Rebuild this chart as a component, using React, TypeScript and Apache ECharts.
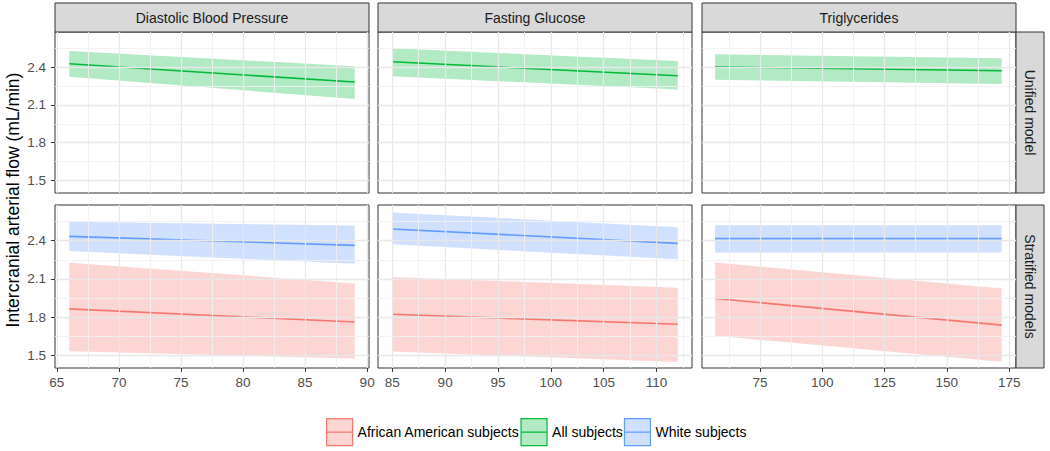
import React, { useEffect, useRef } from "react";
import * as echarts from "echarts";

// ---------- data ----------
const facets = ["Diastolic Blood Pressure", "Fasting Glucose", "Triglycerides"];
const models = ["Unified model", "Stratified models"];
const groups = ["African American subjects", "All subjects", "White subjects"];
const groupColors = ["#F8766D", "#00BA38", "#619CFF"];

// x extent of each facet's data
const dbpX = [66, 89];
const fgX = [85, 112];
const tgX = [57, 172];

// Unified model – All subjects (fit, lower, upper)
const dbpAllFit = [2.427, 2.282];
const dbpAllLo = [2.324, 2.147];
const dbpAllHi = [2.529, 2.408];
const fgAllFit = [2.443, 2.332];
const fgAllLo = [2.329, 2.222];
const fgAllHi = [2.55, 2.45];
const tgAllFit = [2.403, 2.372];
const tgAllLo = [2.3, 2.266];
const tgAllHi = [2.503, 2.471];

// Stratified models – African American subjects
const dbpAAFit = [1.864, 1.761];
const dbpAALo = [1.531, 1.474];
const dbpAAHi = [2.226, 2.064];
const fgAAFit = [1.822, 1.743];
const fgAALo = [1.529, 1.447];
const fgAAHi = [2.115, 2.03];
const tgAAFit = [1.946, 1.737];
const tgAALo = [1.653, 1.449];
const tgAAHi = [2.228, 2.025];

// Stratified models – White subjects
const dbpWFit = [2.434, 2.363];
const dbpWLo = [2.318, 2.218];
const dbpWHi = [2.548, 2.519];
const fgWFit = [2.492, 2.379];
const fgWLo = [2.371, 2.254];
const fgWHi = [2.622, 2.505];
const tgWFit = [2.416, 2.416];
const tgWLo = [2.307, 2.307];
const tgWHi = [2.521, 2.521];

// axes
const xMins = [64.85, 83.65, 51.75];
const xMaxs = [90.15, 113.35, 177.75];
const dbpTicks = [65, 70, 75, 80, 85, 90];
const fgTicks = [85, 90, 95, 100, 105, 110];
const tgTicks = [75, 100, 125, 150, 175];
const dbpMinor = [67.5, 72.5, 77.5, 82.5, 87.5];
const fgMinor = [87.5, 92.5, 97.5, 102.5, 107.5, 112.5];
const tgMinor = [62.5, 87.5, 112.5, 137.5, 162.5];
const yMin = 1.4;
const yMax = 2.68;
const yTicks = [1.5, 1.8, 2.1, 2.4];
const yMinor = [1.65, 1.95, 2.25, 2.55];
const yTitle = "Intercranial arterial flow (mL/min)";

// ---------- assembly ----------
type Curve = { group: number; x: number[]; fit: number[]; lo: number[]; hi: number[] };

const panelXs = [dbpX, fgX, tgX];
const panelTicks = [dbpTicks, fgTicks, tgTicks];
const panelMinor = [dbpMinor, fgMinor, tgMinor];

const panels: Curve[][] = [
  // row 0: unified
  [{ group: 1, x: dbpX, fit: dbpAllFit, lo: dbpAllLo, hi: dbpAllHi }],
  [{ group: 1, x: fgX, fit: fgAllFit, lo: fgAllLo, hi: fgAllHi }],
  [{ group: 1, x: tgX, fit: tgAllFit, lo: tgAllLo, hi: tgAllHi }],
  // row 1: stratified
  [
    { group: 0, x: dbpX, fit: dbpAAFit, lo: dbpAALo, hi: dbpAAHi },
    { group: 2, x: dbpX, fit: dbpWFit, lo: dbpWLo, hi: dbpWHi },
  ],
  [
    { group: 0, x: fgX, fit: fgAAFit, lo: fgAALo, hi: fgAAHi },
    { group: 2, x: fgX, fit: fgWFit, lo: fgWLo, hi: fgWHi },
  ],
  [
    { group: 0, x: tgX, fit: tgAAFit, lo: tgAALo, hi: tgAAHi },
    { group: 2, x: tgX, fit: tgWFit, lo: tgWLo, hi: tgWHi },
  ],
];

function alpha(hex: string, a: number) {
  const r = parseInt(hex.slice(1, 3), 16);
  const g = parseInt(hex.slice(3, 5), 16);
  const b = parseInt(hex.slice(5, 7), 16);
  return `rgba(${r},${g},${b},${a})`;
}

const FONT = "'Liberation Sans', Arial, Helvetica, sans-serif";
const gridLefts = [55, 378, 702];
const gridWidth = 314;
const rowTops = [32, 205];
const rowHeights = [161, 163];
const stripTop = 3;
const stripH = 29;
const stripX = 1016;
const stripW = 28;

function buildOption() {
  const grid: any[] = [];
  const xAxis: any[] = [];
  const yAxis: any[] = [];
  const series: any[] = [];

  for (let row = 0; row < 2; row++) {
    for (let col = 0; col < 3; col++) {
      const g = row * 3 + col;
      grid.push({
        left: gridLefts[col],
        top: rowTops[row],
        width: gridWidth,
        height: rowHeights[row],
        show: true,
        backgroundColor: "#ffffff",
        borderColor: "#333333",
        borderWidth: 1,
        containLabel: false,
        outerBoundsMode: "none",
      });
      const showX = row === 1;
      xAxis.push({
        gridIndex: g,
        type: "value",
        min: xMins[col],
        max: xMaxs[col],
        splitLine: { show: false },
        axisLine: { show: false },
        axisTick: {
          show: showX,
          customValues: panelTicks[col],
          length: 4,
          lineStyle: { color: "#333333", width: 1 },
        },
        axisLabel: {
          show: showX,
          customValues: panelTicks[col],
          color: "#4D4D4D",
          fontSize: 13.5,
          fontFamily: FONT,
          margin: 7,
          hideOverlap: false,
        },
      });
      const showY = col === 0;
      yAxis.push({
        gridIndex: g,
        type: "value",
        min: yMin,
        max: yMax,
        splitLine: { show: false },
        axisLine: { show: false },
        axisTick: {
          show: showY,
          customValues: yTicks,
          length: 4,
          lineStyle: { color: "#333333", width: 1 },
        },
        axisLabel: {
          show: showY,
          customValues: yTicks,
          color: "#4D4D4D",
          fontSize: 13.5,
          fontFamily: FONT,
          margin: 9,
          formatter: (v: number) => v.toFixed(1),
        },
      });

      // grid lines (drawn via markLine through the axis scales)
      const major = { color: "#E8E8E8", width: 1.3, type: "solid" };
      const minor = { color: "#F1F1F1", width: 0.9, type: "solid" };
      const mlData: any[] = [];
      panelMinor[col].forEach((v) => mlData.push({ xAxis: v, lineStyle: minor }));
      yMinor.forEach((v) => mlData.push({ yAxis: v, lineStyle: minor }));
      panelTicks[col].forEach((v) => {
        if (v > xMins[col] && v < xMaxs[col]) mlData.push({ xAxis: v, lineStyle: major });
      });
      yTicks.forEach((v) => mlData.push({ yAxis: v, lineStyle: major }));
      series.push({
        type: "line",
        xAxisIndex: g,
        yAxisIndex: g,
        data: [[panelXs[col][0], yTicks[0]]],
        symbol: "none",
        lineStyle: { opacity: 0 },
        silent: true,
        z: 1,
        markLine: {
          silent: true,
          symbol: ["none", "none"],
          label: { show: false },
          emphasis: { disabled: true },
          data: mlData,
        },
      });

      panels[g].forEach((c) => {
        const color = groupColors[c.group];
        series.push({
          type: "custom",
          name: groups[c.group],
          xAxisIndex: g,
          yAxisIndex: g,
          silent: true,
          z: 2,
          data: c.x.map((x, i) => [x, c.lo[i], c.hi[i]]),
          encode: { x: 0, y: [1, 2] },
          renderItem: (params: any, api: any) => {
            if (params.dataIndex !== 0) return null;
            const pts: number[][] = [];
            for (let i = 0; i < c.x.length; i++) pts.push(api.coord([c.x[i], c.hi[i]]));
            for (let i = c.x.length - 1; i >= 0; i--) pts.push(api.coord([c.x[i], c.lo[i]]));
            return {
              type: "polygon",
              shape: { points: pts },
              style: { fill: alpha(color, 0.3), stroke: null },
            };
          },
        });
        series.push({
          type: "line",
          name: groups[c.group],
          xAxisIndex: g,
          yAxisIndex: g,
          data: c.x.map((x, i) => [x, c.fit[i]]),
          symbol: "none",
          silent: true,
          z: 3,
          lineStyle: { color, width: 1.6 },
          itemStyle: { color },
        });
      });
    }
  }

  const graphic: any[] = [];
  facets.forEach((f, col) => {
    graphic.push({
      type: "rect",
      shape: { x: gridLefts[col], y: stripTop, width: gridWidth, height: stripH },
      style: { fill: "#D9D9D9", stroke: "#333333", lineWidth: 1 },
      silent: true,
    });
    graphic.push({
      type: "text",
      x: gridLefts[col] + gridWidth / 2,
      y: stripTop + stripH / 2 + 0.5,
      style: {
        text: f,
        fontSize: 14,
        fontFamily: FONT,
        fill: "#1A1A1A",
        align: "center",
        verticalAlign: "middle",
      },
      silent: true,
    });
  });
  models.forEach((m, row) => {
    graphic.push({
      type: "rect",
      shape: { x: stripX, y: rowTops[row], width: stripW, height: rowHeights[row] },
      style: { fill: "#D9D9D9", stroke: "#333333", lineWidth: 1 },
      silent: true,
    });
    graphic.push({
      type: "text",
      x: stripX + stripW / 2,
      y: rowTops[row] + rowHeights[row] / 2,
      rotation: -Math.PI / 2,
      style: {
        text: m,
        fontSize: 14,
        fontFamily: FONT,
        fill: "#1A1A1A",
        align: "center",
        verticalAlign: "middle",
      },
      silent: true,
    });
  });
  graphic.push({
    type: "text",
    x: 12.5,
    y: 200,
    rotation: Math.PI / 2,
    style: {
      text: yTitle,
      fontSize: 17.5,
      fontFamily: FONT,
      fill: "#000000",
      align: "center",
      verticalAlign: "middle",
    },
    silent: true,
  });

  return {
    animation: false,
    backgroundColor: "#ffffff",
    textStyle: { fontFamily: FONT },
    grid,
    xAxis,
    yAxis,
    series,
    graphic,
    legend: {
      left: 326,
      top: 418,
      padding: 0,
      itemWidth: 26,
      itemHeight: 27,
      itemGap: 1,
      selectedMode: false,
      textStyle: { fontSize: 14, color: "#000000", fontFamily: FONT },
      data: groups.map((name, i) => ({
        name,
        icon: "path://M0,0L26,0L26,27L0,27Z M0,13.5L26,13.5",
        itemStyle: {
          color: alpha(groupColors[i], 0.3),
          borderColor: groupColors[i],
          borderWidth: 1.2,
        },
      })),
    },
  };
}

export default function App() {
  const ref = useRef<HTMLDivElement>(null);
  useEffect(() => {
    if (!ref.current) return;
    const chart = echarts.init(ref.current, undefined, { renderer: "svg" });
    chart.setOption(buildOption() as any);
    return () => chart.dispose();
  }, []);
  return (
    <div
      ref={ref}
      style={{ position: "absolute", left: 0, top: 0, width: 1050, height: 451, background: "#fff" }}
    />
  );
}
